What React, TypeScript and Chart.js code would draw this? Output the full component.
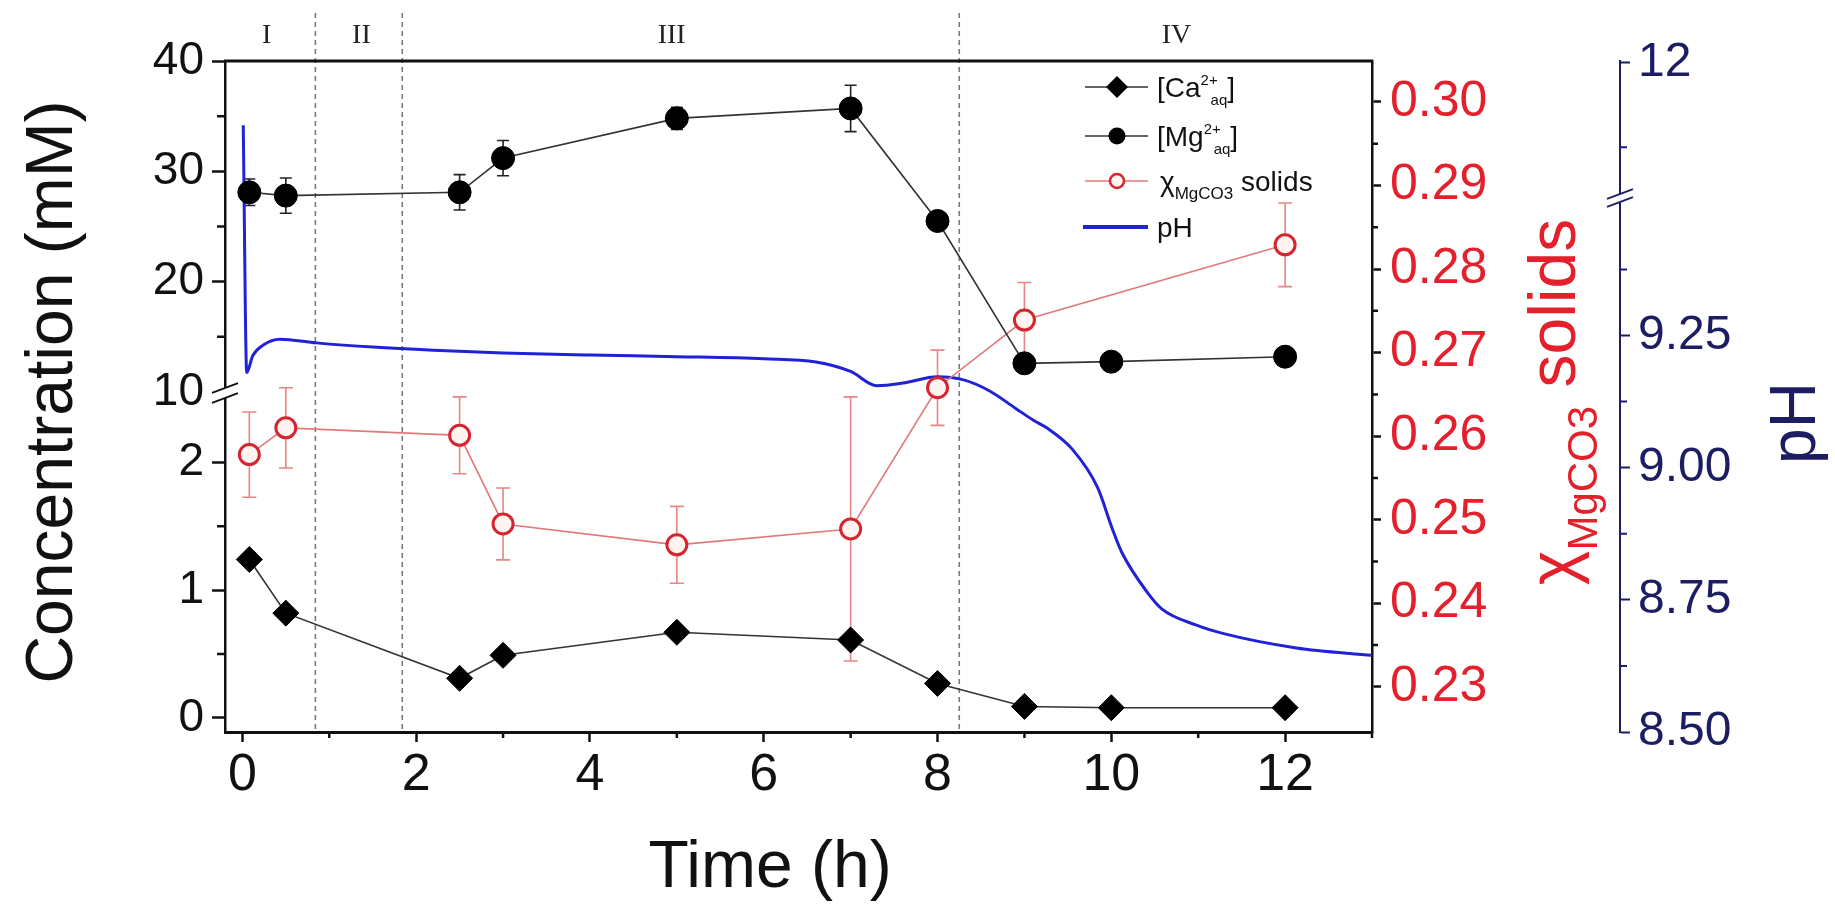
import React, { useEffect, useRef } from 'react';
import { Chart, LinearScale, registerables } from 'chart.js';

const FONT = "'Liberation Sans', Arial, Helvetica, sans-serif";
const SERIF = "'Liberation Serif', 'Times New Roman', serif";
const INK = '#111111';
const RED = '#e3202b';
const NAVY = '#1d1d64';
const BLUE = '#2121d6';

// Sampling times (h) for the dissolved ions
const sampleTimes = [0.08, 0.5, 2.5, 3, 5, 7, 8, 9, 10, 12];
// [Ca2+] in mM
const caConc = [1.24, 0.82, 0.31, 0.49, 0.67, 0.61, 0.27, 0.09, 0.08, 0.08];
// [Mg2+] in mM and its standard deviation
const mgConc = [28.1, 27.8, 28.1, 31.2, 34.8, 35.7, 25.5, 12.6, 12.75, 13.2];
const mgErr = [1.2, 1.6, 1.6, 1.6, 1.0, 2.1, 0, 0, 0, 0];

// MgCO3 mole fraction of the solids
const solidsTimes = [0.08, 0.5, 2.5, 3, 5, 7, 8, 9, 12];
const solidsFrac = [0.2578, 0.261, 0.2601, 0.2495, 0.247, 0.2489, 0.2658, 0.2739, 0.2829];
const solidsErr = [0.0051, 0.0048, 0.0046, 0.0043, 0.0046, 0.0158, 0.0045, 0.0045, 0.005];

// Logged pH trace
const phTimes = [0.01, 0.05, 0.12, 0.24, 0.43, 0.85, 1.5, 2.2, 3.0, 4.0, 5.0, 6.0, 6.6, 7.0, 7.3, 7.6, 8.0, 8.3, 8.6, 8.9, 9.1, 9.26, 9.55, 9.84, 10.01, 10.12, 10.41, 10.58, 10.98, 11.27, 12.13, 13.0];
const phValues = [11.63, 9.18, 9.212, 9.232, 9.243, 9.236, 9.228, 9.222, 9.217, 9.213, 9.21, 9.206, 9.2, 9.182, 9.155, 9.16, 9.172, 9.166, 9.145, 9.112, 9.09, 9.075, 9.035, 8.963, 8.885, 8.84, 8.765, 8.733, 8.702, 8.687, 8.659, 8.645];

// Axis ticks
const timeTicks = [0, 2, 4, 6, 8, 10, 12];
const timeMinorTicks = [1, 3, 5, 7, 9, 11, 13];
const concTicks = [0, 1, 2, 10, 20, 30, 40];
const concMinorTicks = [0.5, 1.5, 15, 25, 35];
const solidsTicks = [0.23, 0.24, 0.25, 0.26, 0.27, 0.28, 0.29, 0.3];
const solidsMinorTicks = [0.235, 0.245, 0.255, 0.265, 0.275, 0.285, 0.295];
const phTicks = [8.5, 8.75, 9.0, 9.25, 12];
const phMinorTicks = [8.625, 8.875, 9.125, 9.375, 11.5];

// Reaction stages
const phaseBounds = [0.84, 1.84, 8.25];
const phaseNames = ['I', 'II', 'III', 'IV'];
const phaseLabelTimes = [0.28, 1.37, 4.94, 10.75];

// Broken axes: each piece maps [min, max] onto a fraction [from, to] of the axis length
type Piece = { min: number; max: number; from: number; to: number };
const brokenPieces: Record<string, Piece[]> = {
  yConc: [
    { min: -0.11, max: 2.55, from: 0, to: 0.5067 },
    { min: 10, max: 40, from: 0.5067, to: 1 },
  ],
  yPh: [
    { min: 8.5, max: 9.51, from: 0, to: 0.7958 },
    { min: 11.2, max: 12.01, from: 0.7958, to: 1 },
  ],
};
const brokenTicks: Record<string, number[]> = { yConc: concTicks, yPh: phTicks };

class BrokenLinearScale extends LinearScale {
  static id = 'brokenLinear';
  static defaults = {};

  determineDataLimits() {
    const p = brokenPieces[this.id];
    this.min = p[0].min;
    this.max = p[p.length - 1].max;
  }

  buildTicks() {
    return (brokenTicks[this.id] || []).map((v) => ({ value: v }));
  }

  toDecimal(value: number) {
    const p = brokenPieces[this.id];
    for (let i = 0; i < p.length; i++) {
      const s = p[i];
      if (value <= s.max || i === p.length - 1) {
        if (i > 0 && value < s.min) return s.from;
        return s.from + ((value - s.min) / (s.max - s.min)) * (s.to - s.from);
      }
    }
    return 0;
  }

  getPixelForValue(value: number) {
    if (value === null || value === undefined || isNaN(value)) return NaN;
    return this.getPixelForDecimal(this.toDecimal(value));
  }

  getValueForPixel(pixel: number) {
    const d = this.getDecimalForPixel(pixel);
    const p = brokenPieces[this.id];
    for (const s of p) {
      if (d <= s.to) return s.min + ((d - s.from) / (s.to - s.from)) * (s.max - s.min);
    }
    const s = p[p.length - 1];
    return s.min + ((d - s.from) / (s.to - s.from)) * (s.max - s.min);
  }
}

Chart.register(...registerables, BrokenLinearScale);

type Run = { t: string; size: number; dx?: number; dy?: number };

function runsWidth(ctx: CanvasRenderingContext2D, runs: Run[]) {
  let w = 0;
  for (const r of runs) {
    ctx.font = `${r.size}px ${FONT}`;
    w += (r.dx || 0) + ctx.measureText(r.t).width;
  }
  return w;
}

function drawRuns(ctx: CanvasRenderingContext2D, runs: Run[], x: number, y: number, color: string) {
  ctx.fillStyle = color;
  ctx.textAlign = 'left';
  ctx.textBaseline = 'alphabetic';
  let cx = x;
  for (const r of runs) {
    ctx.font = `${r.size}px ${FONT}`;
    cx += r.dx || 0;
    ctx.fillText(r.t, cx, y + (r.dy || 0));
    cx += ctx.measureText(r.t).width;
  }
  return cx;
}

function drawErrorBars(ctx: CanvasRenderingContext2D, xs: any, ys: any, times: number[], vals: number[], errs: number[], color: string, cap: number) {
  ctx.save();
  ctx.strokeStyle = color;
  ctx.lineWidth = 1.6;
  ctx.beginPath();
  times.forEach((t, i) => {
    const e = errs[i];
    if (!e) return;
    const px = xs.getPixelForValue(t);
    const top = ys.getPixelForValue(vals[i] + e);
    const bot = ys.getPixelForValue(vals[i] - e);
    ctx.moveTo(px, top);
    ctx.lineTo(px, bot);
    ctx.moveTo(px - cap, top);
    ctx.lineTo(px + cap, top);
    ctx.moveTo(px - cap, bot);
    ctx.lineTo(px + cap, bot);
  });
  ctx.stroke();
  ctx.restore();
}

function drawMinorTicks(ctx: CanvasRenderingContext2D, scale: any, values: number[], len: number, side: string, color: string, width: number) {
  ctx.save();
  ctx.strokeStyle = color;
  ctx.lineWidth = width;
  ctx.beginPath();
  values.forEach((v) => {
    const p = scale.getPixelForValue(v);
    if (side === 'bottom') {
      ctx.moveTo(p, scale.top);
      ctx.lineTo(p, scale.top + len);
    } else if (side === 'left') {
      ctx.moveTo(scale.right, p);
      ctx.lineTo(scale.right - len, p);
    } else {
      ctx.moveTo(scale.left, p);
      ctx.lineTo(scale.left + len, p);
    }
  });
  ctx.stroke();
  ctx.restore();
}

function drawBreak(ctx: CanvasRenderingContext2D, x: number, y: number, color: string, gap: number) {
  const dx = 13;
  const k = 0.38;
  ctx.save();
  ctx.fillStyle = '#ffffff';
  ctx.beginPath();
  ctx.moveTo(x - dx, y - gap + dx * k);
  ctx.lineTo(x + dx, y - gap - dx * k);
  ctx.lineTo(x + dx, y + gap - dx * k);
  ctx.lineTo(x - dx, y + gap + dx * k);
  ctx.closePath();
  ctx.fill();
  ctx.strokeStyle = color;
  ctx.lineWidth = 1.8;
  ctx.beginPath();
  ctx.moveTo(x - dx, y - gap + dx * k);
  ctx.lineTo(x + dx, y - gap - dx * k);
  ctx.moveTo(x - dx, y + gap + dx * k);
  ctx.lineTo(x + dx, y + gap - dx * k);
  ctx.stroke();
  ctx.restore();
}

function rotatedRuns(ctx: CanvasRenderingContext2D, runs: Run[], baseX: number, centerY: number, color: string) {
  ctx.save();
  ctx.translate(baseX, centerY);
  ctx.rotate(-Math.PI / 2);
  const w = runsWidth(ctx, runs);
  drawRuns(ctx, runs, -w / 2, 0, color);
  ctx.restore();
}

const decorPlugin = {
  id: 'decor',
  beforeDatasetsDraw(chart: any) {
    const { ctx, chartArea, scales } = chart;
    const xs = scales.x;
    ctx.save();
    ctx.strokeStyle = '#7a7a7a';
    ctx.lineWidth = 1.6;
    ctx.setLineDash([5, 4]);
    phaseBounds.forEach((t) => {
      const px = xs.getPixelForValue(t);
      ctx.beginPath();
      ctx.moveTo(px, 13);
      ctx.lineTo(px, chartArea.bottom);
      ctx.stroke();
    });
    ctx.restore();
    drawErrorBars(ctx, xs, scales.yConc, sampleTimes, mgConc, mgErr, '#222222', 6);
    drawErrorBars(ctx, xs, scales.ySolids, solidsTimes, solidsFrac, solidsErr, '#e88585', 7);
  },
  afterDraw(chart: any) {
    const { ctx, chartArea, scales } = chart;
    const xs = scales.x;
    const yc = scales.yConc;
    const ys = scales.ySolids;
    const yp = scales.yPh;

    // top frame
    ctx.save();
    ctx.strokeStyle = INK;
    ctx.lineWidth = 3;
    ctx.beginPath();
    ctx.moveTo(chartArea.left - 1, chartArea.top);
    ctx.lineTo(chartArea.right + 1, chartArea.top);
    ctx.stroke();
    ctx.restore();

    drawMinorTicks(ctx, xs, timeMinorTicks, 6, 'bottom', INK, 2.5);
    drawMinorTicks(ctx, yc, concMinorTicks, 8, 'left', INK, 2.5);
    drawMinorTicks(ctx, ys, solidsMinorTicks, 6, 'right', INK, 2.5);
    drawMinorTicks(ctx, yp, phMinorTicks, 7, 'right', NAVY, 2);

    drawBreak(ctx, yc.right, yc.getPixelForDecimal(brokenPieces.yConc[0].to) + 1, INK, 5);
    drawBreak(ctx, yp.left, yp.getPixelForDecimal(brokenPieces.yPh[0].to), NAVY, 4);

    // stage labels
    ctx.save();
    ctx.fillStyle = '#222222';
    ctx.font = `28px ${SERIF}`;
    ctx.textAlign = 'center';
    ctx.textBaseline = 'middle';
    phaseNames.forEach((n, i) => ctx.fillText(n, xs.getPixelForValue(phaseLabelTimes[i]), 36));
    ctx.restore();

    // axis titles
    ctx.save();
    ctx.fillStyle = INK;
    ctx.font = `66px ${FONT}`;
    ctx.textAlign = 'center';
    ctx.textBaseline = 'alphabetic';
    ctx.fillText('Time (h)', 770, 887);
    ctx.translate(72, 392);
    ctx.rotate(-Math.PI / 2);
    ctx.fillText('Concentration (mM)', 0, 0);
    ctx.restore();

    rotatedRuns(ctx, [
      { t: 'χ', size: 66 },
      { t: 'MgCO3', size: 42, dy: 22 },
      { t: ' solids', size: 66 },
    ], 1575, 402, RED);

    ctx.save();
    ctx.fillStyle = NAVY;
    ctx.font = `64px ${FONT}`;
    ctx.textAlign = 'center';
    ctx.textBaseline = 'alphabetic';
    ctx.translate(1815, 423);
    ctx.rotate(-Math.PI / 2);
    ctx.fillText('pH', 0, 0);
    ctx.restore();

    // legend
    const lx0 = 1085;
    const lx1 = 1148;
    const mx = 1117;
    const tx = 1157;
    const rows = [87, 136, 181, 227];
    ctx.save();
    ctx.strokeStyle = '#333333';
    ctx.lineWidth = 1.6;
    ctx.beginPath();
    ctx.moveTo(lx0, rows[0]);
    ctx.lineTo(lx1, rows[0]);
    ctx.moveTo(lx0, rows[1]);
    ctx.lineTo(lx1, rows[1]);
    ctx.stroke();
    ctx.fillStyle = '#000000';
    ctx.beginPath();
    ctx.moveTo(mx, rows[0] - 11);
    ctx.lineTo(mx + 11, rows[0]);
    ctx.lineTo(mx, rows[0] + 11);
    ctx.lineTo(mx - 11, rows[0]);
    ctx.closePath();
    ctx.fill();
    ctx.beginPath();
    ctx.arc(mx, rows[1], 8.5, 0, Math.PI * 2);
    ctx.fill();
    ctx.strokeStyle = '#e07a7a';
    ctx.beginPath();
    ctx.moveTo(lx0, rows[2]);
    ctx.lineTo(lx1, rows[2]);
    ctx.stroke();
    ctx.fillStyle = '#fff4ef';
    ctx.strokeStyle = '#d42630';
    ctx.lineWidth = 2.5;
    ctx.beginPath();
    ctx.arc(mx, rows[2], 7, 0, Math.PI * 2);
    ctx.fill();
    ctx.stroke();
    ctx.strokeStyle = BLUE;
    ctx.lineWidth = 4;
    ctx.beginPath();
    ctx.moveTo(lx0 - 2, rows[3]);
    ctx.lineTo(lx1, rows[3]);
    ctx.stroke();
    ctx.restore();

    ctx.save();
    const ionLabel = (ion: string, y: number) => {
      let x = drawRuns(ctx, [{ t: '[' + ion, size: 28 }], tx, y + 10, INK);
      drawRuns(ctx, [{ t: '2+', size: 15 }], x, y - 2, INK);
      x = drawRuns(ctx, [{ t: 'aq', size: 15 }], x + 10, y + 18, INK);
      drawRuns(ctx, [{ t: ']', size: 28 }], x, y + 10, INK);
    };
    ionLabel('Ca', rows[0]);
    ionLabel('Mg', rows[1]);
    drawRuns(ctx, [
      { t: 'χ', size: 28 },
      { t: 'MgCO3', size: 17, dy: 8 },
      { t: ' solids', size: 28 },
    ], tx + 3, rows[2] + 10, INK);
    drawRuns(ctx, [{ t: 'pH', size: 28 }], tx, rows[3] + 10, INK);
    ctx.restore();
  },
};

function buildConfig(): any {
  const fixedPadding = (s: any) => {
    s.paddingTop = 0;
    s.paddingBottom = 0;
    s.paddingLeft = 0;
    s.paddingRight = 0;
  };
  return {
    type: 'line',
    data: {
      datasets: [
        {
          label: '[Ca2+aq]',
          data: sampleTimes.map((t, i) => ({ x: t, y: caConc[i] })),
          yAxisID: 'yConc',
          borderColor: '#333333',
          borderWidth: 1.6,
          pointStyle: 'rectRot',
          pointRadius: 13,
          pointBackgroundColor: '#000000',
          pointBorderColor: '#000000',
          pointBorderWidth: 1,
          order: 1,
        },
        {
          label: '[Mg2+aq]',
          data: sampleTimes.map((t, i) => ({ x: t, y: mgConc[i] })),
          yAxisID: 'yConc',
          borderColor: '#333333',
          borderWidth: 1.6,
          pointStyle: 'circle',
          pointRadius: 11.5,
          pointBackgroundColor: '#000000',
          pointBorderColor: '#000000',
          pointBorderWidth: 1,
          order: 2,
        },
        {
          label: 'χMgCO3 solids',
          data: solidsTimes.map((t, i) => ({ x: t, y: solidsFrac[i] })),
          yAxisID: 'ySolids',
          borderColor: '#e07a7a',
          borderWidth: 1.6,
          pointStyle: 'circle',
          pointRadius: 10,
          pointBorderWidth: 3,
          pointBorderColor: '#d42630',
          pointBackgroundColor: '#fff4ef',
          order: 3,
        },
        {
          label: 'pH',
          data: phTimes.map((t, i) => ({ x: t, y: phValues[i] })),
          yAxisID: 'yPh',
          borderColor: BLUE,
          borderWidth: 3,
          pointRadius: 0,
          cubicInterpolationMode: 'monotone',
          order: 4,
        },
      ],
    },
    options: {
      responsive: false,
      animation: false,
      events: [],
      layout: { padding: { top: 61, left: 0, right: 0, bottom: 0 } },
      plugins: { legend: { display: false }, tooltip: { enabled: false } },
      scales: {
        x: {
          type: 'linear',
          position: 'bottom',
          min: -0.2,
          max: 13,
          afterBuildTicks: (s: any) => {
            s.ticks = timeTicks.map((v) => ({ value: v }));
          },
          afterFit: (s: any) => {
            s.height = 175;
            fixedPadding(s);
          },
          grid: { display: true, drawOnChartArea: false, drawTicks: true, tickLength: 10, tickWidth: 2.5, tickColor: INK },
          border: { display: true, color: INK, width: 3 },
          ticks: {
            autoSkip: false,
            maxRotation: 0,
            padding: 8,
            color: INK,
            font: { family: FONT, size: 52, lineHeight: 1 },
            callback: (v: number) => String(v),
          },
        },
        yConc: {
          type: 'brokenLinear',
          position: 'left',
          afterFit: (s: any) => {
            s.width = 225;
            fixedPadding(s);
          },
          grid: {
            display: true,
            drawOnChartArea: false,
            drawTicks: true,
            tickLength: 13,
            tickWidth: 2.5,
            tickColor: (c: any) => (c.tick && c.tick.value === 10 ? 'rgba(0,0,0,0)' : INK),
          },
          border: { display: true, color: INK, width: 2.5 },
          ticks: {
            autoSkip: false,
            padding: 8,
            color: INK,
            font: { family: FONT, size: 46, lineHeight: 1 },
            callback: (v: number) => String(v),
          },
        },
        ySolids: {
          type: 'linear',
          position: 'right',
          weight: 0,
          min: 0.2246,
          max: 0.3049,
          afterBuildTicks: (s: any) => {
            s.ticks = solidsTicks.map((v) => ({ value: v }));
          },
          afterFit: (s: any) => {
            s.width = 248;
            fixedPadding(s);
          },
          grid: { display: true, drawOnChartArea: false, drawTicks: true, tickLength: 9, tickWidth: 2.5, tickColor: INK },
          border: { display: true, color: INK, width: 2.5 },
          ticks: {
            autoSkip: false,
            padding: 9,
            color: RED,
            font: { family: FONT, size: 50, lineHeight: 1 },
            callback: (v: number) => v.toFixed(2),
          },
        },
        yPh: {
          type: 'brokenLinear',
          position: 'right',
          weight: 1,
          afterFit: (s: any) => {
            s.width = 215;
            fixedPadding(s);
          },
          grid: { display: true, drawOnChartArea: false, drawTicks: true, tickLength: 10, tickWidth: 2, tickColor: NAVY },
          border: { display: true, color: NAVY, width: 2 },
          ticks: {
            autoSkip: false,
            padding: 8,
            color: NAVY,
            font: { family: FONT, size: 48, lineHeight: 1 },
            callback: (v: number) => (v === 12 ? '12' : v.toFixed(2)),
          },
        },
      },
    },
    plugins: [decorPlugin],
  };
}

export default function App() {
  const ref = useRef<HTMLCanvasElement>(null);
  useEffect(() => {
    if (!ref.current) return;
    const chart = new Chart(ref.current, buildConfig());
    return () => chart.destroy();
  }, []);
  return (
    <canvas
      ref={ref}
      width={1835}
      height={907}
      style={{ position: 'fixed', left: 0, top: 0, display: 'block', background: '#ffffff' }}
    />
  );
}
